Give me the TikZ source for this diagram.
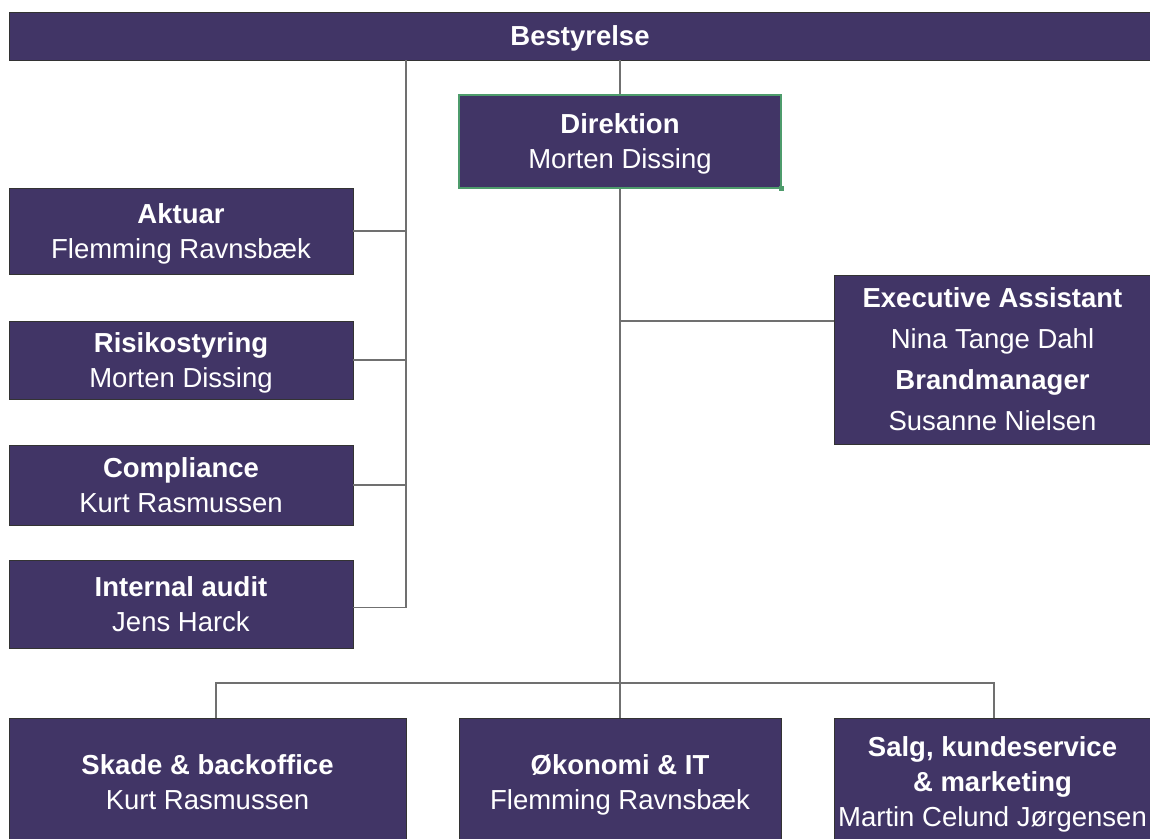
\documentclass[tikz,border=0pt]{standalone}
\usepackage{fontspec}
\setmainfont{Liberation Sans}
\definecolor{boxfill}{HTML}{413566}
\definecolor{linegray}{HTML}{707070}
\definecolor{selgreen}{HTML}{4E9C6C}

\begin{document}
\begin{tikzpicture}[x=1pt,y=-1pt,
            every node/.style={rectangle,draw=black!80,line width=0.8pt,fill=boxfill,text=white,
              align=center,inner sep=0pt,text depth=0pt,font=\fontsize{27.5}{35}\selectfont},
            link/.style={draw=linegray,line width=1.3pt}
            ]
            \useasboundingbox (0,0) rectangle (1150,838);
            \clip (0,0) rectangle (1150,838);
            \node[minimum width=1142,minimum height=48] (best) at (580,36) {\textbf{Bestyrelse}};
            \node[minimum width=322,minimum height=93,draw=selgreen,line width=1.6pt] (dir) at (620,141.5)
                {\textbf{Direktion}\\Morten Dissing};
            \fill[selgreen] (dir.south east) ++(-2.5,-2.5) rectangle ++(5,5);
            \node[minimum width=344,minimum height=86] (akt) at (181,231) {\textbf{Aktuar}\\Flemming Ravnsbæk};
            \node[minimum width=344,minimum height=78] (risk) at (181,360) {\textbf{Risikostyring}\\Morten Dissing};
            \node[minimum width=344,minimum height=80] (comp) at (181,485) {\textbf{Compliance}\\Kurt Rasmussen};
            \node[minimum width=344,minimum height=88] (audit) at (181,604) {\textbf{Internal audit}\\Jens Harck};
            \node[minimum width=317,minimum height=169,font=\fontsize{27.5}{41}\selectfont] (exec) at (992.5,359.5)
                {\textbf{Executive Assistant}\\Nina Tange Dahl\\\textbf{Brandmanager}\\Susanne Nielsen};
            \node[minimum width=397,minimum height=128] (skade) at (207.5,782) {\textbf{Skade \& backoffice}\\Kurt Rasmussen};
            \node[minimum width=322,minimum height=128] (oko) at (620,782) {\textbf{Økonomi \& IT}\\Flemming Ravnsbæk};
            \node[minimum width=317,minimum height=128] (salg) at (992.5,782)
                {\textbf{Salg, kundeservice}\\\textbf{\& marketing}\\Martin Celund Jørgensen};
            % left branch
            \coordinate (lbus) at (406,607.5);
            \draw[link] (best.south -| lbus) -- (lbus);
            \draw[link] (akt.east) -- (akt.east -| lbus);
            \draw[link] (risk.east) -- (risk.east -| lbus);
            \draw[link] (comp.east) -- (comp.east -| lbus);
            \draw[link] (audit.east |- lbus) -- (lbus);
            % middle
            \draw[link] (best.south -| dir.north) -- (dir.north);
            \draw[link] (dir.south) -- (oko.north);
            \coordinate (ea) at (620,321);
            \draw[link] (ea) -- (ea -| exec.west);
            % bottom row
            \coordinate (bl) at (216,683);
            \coordinate (br) at (994,683);
            \draw[link] (bl |- skade.north) -- (bl) -- (br) -- (br |- salg.north);
\end{tikzpicture}
\end{document}
